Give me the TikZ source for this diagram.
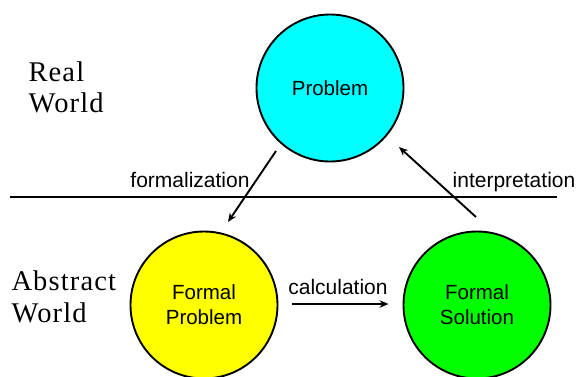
\documentclass[tikz,border=0pt]{standalone}
\usepackage{fontspec}
\setmainfont{Liberation Sans}
\newfontfamily\worldfont[LetterSpace=4]{Liberation Serif}
\usetikzlibrary{arrows.meta,calc}
\definecolor{cycol}{RGB}{0,255,255}
\definecolor{yecol}{RGB}{255,255,0}
\definecolor{grcol}{RGB}{0,255,0}
\begin{document}
\begin{tikzpicture}[x=1pt,y=-1pt,
  bubble/.style={circle,draw=black,line width=1.9pt,minimum size=147pt,inner sep=0pt,align=center,font=\fontsize{20.5}{25}\selectfont},
  conn/.style={line width=1.9pt,-{Stealth[length=9pt,width=7.5pt]}},
  lbl/.style={font=\fontsize{21}{24}\selectfont,anchor=base},
  world/.style={font=\worldfont\fontsize{28.5}{32}\selectfont,anchor=base west}]
\useasboundingbox (0,0) rectangle (578,376);
\node[bubble,fill=cycol] (P) at (330,88) {Problem};
\node[bubble,fill=yecol] (FP) at (204,305) {Formal\\Problem};
\node[bubble,fill=grcol] (FS) at (477,305) {Formal\\Solution};
\coordinate (L1) at (10,197);
\coordinate (L2) at (557,197);
\draw[line width=1.9pt] (L1) -- (L2);
\node[world] (rw1) at (25,81) {Real};
\node[world] (rw2) at (25,112) {World};
\node[world] (aw1) at (8,290) {Abstract};
\node[world] (aw2) at (8,322) {World};
\coordinate (f1) at ($(P.center)+(-54,63)$);
\coordinate (f2) at ($(FP.center)+(24,-83)$);
\draw[conn] (f1) -- (f2);
\coordinate (i1) at ($(FS.center)+(-1,-88)$);
\coordinate (i2) at ($(P.center)+(69,59)$);
\draw[conn] (i1) -- (i2);
\coordinate (c1) at ($(FP.east)+(14,-1)$);
\coordinate (c2) at ($(FS.west)+(-14,-1)$);
\draw[conn] (c1) -- (c2);
\node[lbl] (tf) at (190,187) {formalization};
\node[lbl] (ti) at (514,187) {interpretation};
\node[lbl] (tc) at (338,294) {calculation};
\end{tikzpicture}
\end{document}
